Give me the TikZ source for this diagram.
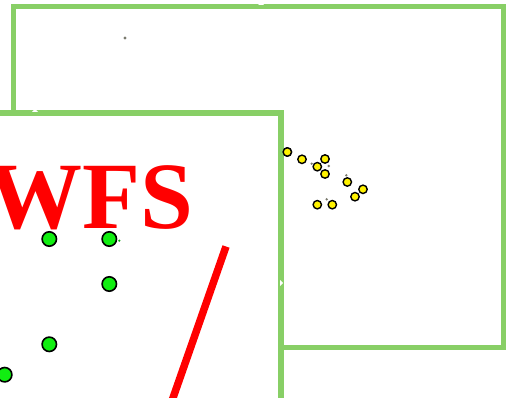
\documentclass[tikz,border=0pt]{standalone}
\usepackage{fontspec}
\setmainfont{Liberation Serif}
\usetikzlibrary{positioning}
\definecolor{wfGreen}{HTML}{88CF66}
\definecolor{wfLime}{HTML}{11EE11}
\definecolor{wfYellow}{HTML}{FFF200}
\definecolor{wfRed}{HTML}{FF0000}
\definecolor{wfDot}{HTML}{7A7A6E}

\begin{document}
\begin{tikzpicture}[
    x=1pt,y=-1pt,
    frame/.style={draw=wfGreen,line width=5.5pt,fill=white},
    handle/.style={fill=white,draw=none},
    src/.style={circle,draw=black,line width=1.6pt,fill=wfLime,minimum size=14.4pt,inner sep=0pt},
    mic/.style={circle,draw=black,line width=1.4pt,fill=wfYellow,minimum size=8.4pt,inner sep=0pt},
    dot/.style={circle,fill=wfDot,minimum size=2.6pt,inner sep=0pt},
    title/.style={text=wfRed,font=\fontsize{95}{95}\selectfont\bfseries,inner sep=0pt,anchor=base west},
    wave/.style={draw=wfRed,line width=7.5pt}
  ]
    \useasboundingbox (0,0) rectangle (506,398);
    \clip (0,0) rectangle (506,398);

    % back window
    \draw[frame] (13.5,6.5) rectangle (503.5,347.5);
    \fill[handle] (258,5) -- (264,5) -- (261,2) -- cycle;
    \node[dot,minimum size=3.4pt] (origin) at (125,38) {};

    % microphone array
    \node[mic] (m1)  at (287.3,152)   {};
    \node[mic] (m2)  at (302,159.3)   {};
    \node[mic] (m3)  at (325,159)     {};
    \node[mic] (m4)  at (317.3,166.7) {};
    \node[mic] (m5)  at (325,174)     {};
    \node[mic] (m6)  at (347.3,182)   {};
    \node[mic] (m7)  at (363,189.3)   {};
    \node[mic] (m8)  at (355,196.7)   {};
    \node[mic] (m9)  at (317.3,204.7) {};
    \node[mic] (m10) at (332.3,204.7) {};
    \node[dot] (d1) at (311.7,163.7) {};
    \node[dot] (d2) at (328.7,166)   {};
    \node[dot] (d3) at (346.3,175.3) {};
    \node[dot] (d4) at (326.7,199.3) {};

    % front window
    \draw[frame] (-20,113) rectangle (281,420);
    \fill[handle] (32,112) -- (38,112) -- (35,109) -- cycle;
    \fill[handle] (280,280) -- (280,286) -- (283,283) -- cycle;
    \node[mic] at (287.3,152) {};

    \node[title] (wfs) at (-12.5,228.3) {WFS};

    % sources
    \node[src] (s1) at (49.3,239)   {};
    \node[src] (s2) at (109.3,239)  {};
    \node[src] (s3) at (109.3,284)  {};
    \node[src] (s4) at (49.3,344.3) {};
    \node[src] (s5) at (4.7,374.7)  {};
    \node[dot,fill=wfLime!70!black,minimum size=2.4pt] (d5) at (119.3,240.7) {};

    \coordinate (w1) at (226,246.5);
    \coordinate (w2) at (170.5,405);
    \draw[wave] (w1) -- (w2);
  \end{tikzpicture}
\end{document}
